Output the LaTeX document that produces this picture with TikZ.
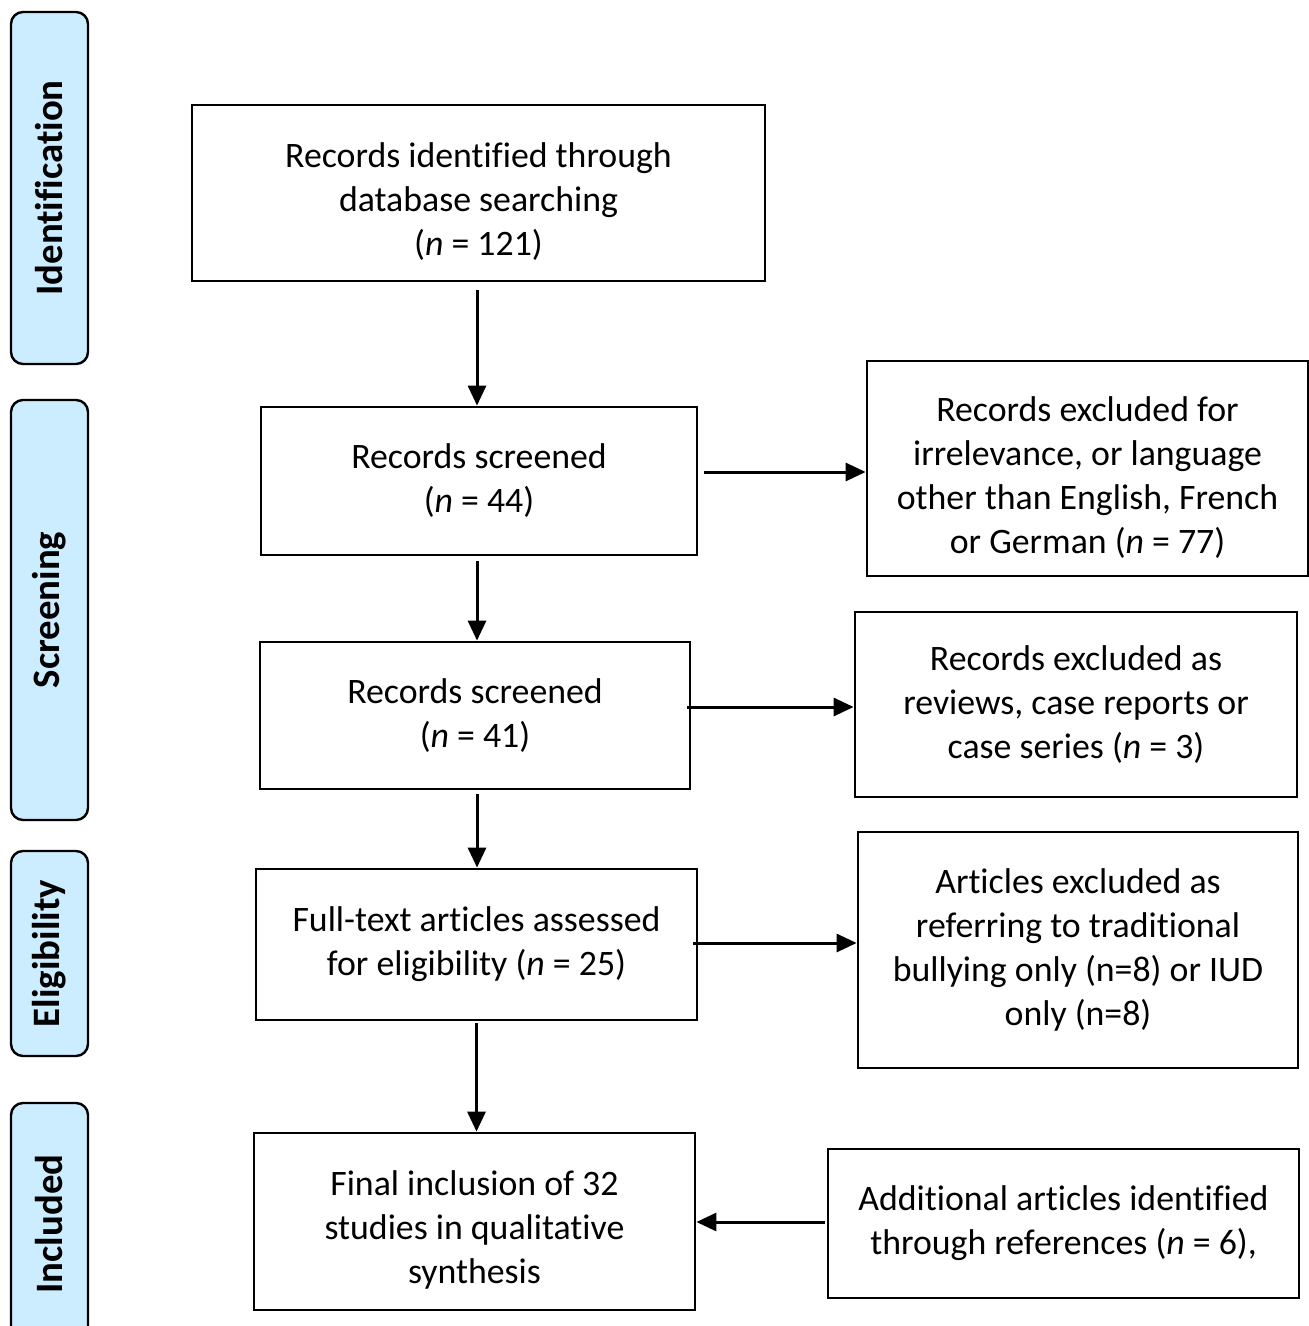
\documentclass[tikz,border=0pt]{standalone}
\usepackage{fontspec}
\setmainfont{Carlito}[Ligatures=NoCommon]
\usetikzlibrary{arrows.meta}

\newcommand{\lowstrut}{\rule{0pt}{21pt}}

\begin{document}
\begin{tikzpicture}[x=0.5pt,y=-0.5pt]
  \definecolor{kBlue}{rgb}{0.80,0.93,1.00}
  \tikzset{
    box/.style={draw,line width=1.4pt,inner sep=0pt,align=center,
                font=\fontsize{17.9}{22}\selectfont},
    phase/.style={draw,line width=1.2pt,rounded corners=6pt,fill=kBlue},
    phasetext/.style={rotate=90,font=\fontsize{19.4}{22}\selectfont\bfseries},
    link/.style={line width=1.5pt,-{Triangle[length=10pt,width=9pt]}}
  }
  \useasboundingbox (0,0) rectangle (1309,1326);

  % phases
  \foreach \n/\t/\b/\txt in { ident/12/364/Identification,
                              screen/400/820/Screening,
                              elig/851/1056/Eligibility,
                              incl/1103/1345/Included
                            }
  {
    \draw[phase] (11,\t) rectangle (88,\b);
    \node[phasetext] (\n) at (49.5,{(\t+\b)/2}) {\txt};
  }

  % main column
  \node[box,minimum width=286.5pt,minimum height=88pt] (rec) at (478.5,193)
    {\lowstrut Records identified through\\database searching\\(\textit{n} = 121)};
  \node[box,minimum width=218pt,minimum height=74pt] (scrA) at (479,481)
    {Records screened\\(\textit{n} = 44)};
  \node[box,minimum width=215pt,minimum height=73.5pt] (scrB) at (475,715.5)
    {Records screened\\(\textit{n} = 41)};
  \node[box,minimum width=220.5pt,minimum height=75.5pt] (full) at (476.5,944.5)
    {Full-text articles assessed\\for eligibility (\textit{n} = 25)};
  \node[box,minimum width=220.5pt,minimum height=88.5pt] (final) at (474.5,1221.5)
    {\lowstrut Final inclusion of 32\\studies in qualitative\\synthesis};

  % side boxes
  \node[box,minimum width=220.5pt,minimum height=107.5pt] (exIrr) at (1087.5,468.5)
    {\lowstrut Records excluded for\\irrelevance, or language\\other than English, French\\or German (\textit{n} = 77)};
  \node[box,minimum width=221pt,minimum height=92.5pt] (exRev) at (1076,704.5)
    {Records excluded as\\reviews, case reports or\\case series (\textit{n} = 3)};
  \node[box,minimum width=220pt,minimum height=118pt] (exTrad) at (1078,950)
    {Articles excluded as\\referring to traditional\\bullying only (n=8) or IUD\\only (n=8)};
  \node[box,minimum width=235.5pt,minimum height=74.5pt] (addRef) at (1063.5,1223.5)
    {Additional articles identified\\through references (\textit{n} = 6),};

  % arrows down
  \draw[link,shorten <=4pt] ([xshift=-0.75pt]rec.south) -- ([xshift=-0.75pt]rec.south |- scrA.north);
  \draw[link,shorten <=2.5pt] ([xshift=-1pt]scrA.south) -- ([xshift=-1pt]scrA.south |- scrB.north);
  \draw[link,shorten <=2pt] ([xshift=1pt]scrB.south) -- ([xshift=1pt]scrB.south |- full.north);
  \draw[link,shorten <=1pt] (full.south) -- (full.south |- final.north);

  % arrows sideways
  \coordinate (oIrr) at ([yshift=4.5pt]scrA.east);
  \coordinate (oRev) at ([xshift=-2pt,yshift=4.25pt]scrB.east);
  \coordinate (oTrad) at ([xshift=-2.5pt,yshift=0.75pt]full.east);
  \coordinate (oAdd) at ([yshift=0.75pt]addRef.west);
  \draw[link,shorten <=3pt] (oIrr) -- (oIrr -| exIrr.west);
  \draw[link] (oRev) -- (oRev -| exRev.west);
  \draw[link] (oTrad) -- (oTrad -| exTrad.west);
  \draw[link,shorten <=1pt] (oAdd) -- (oAdd -| final.east);
\end{tikzpicture}
\end{document}
